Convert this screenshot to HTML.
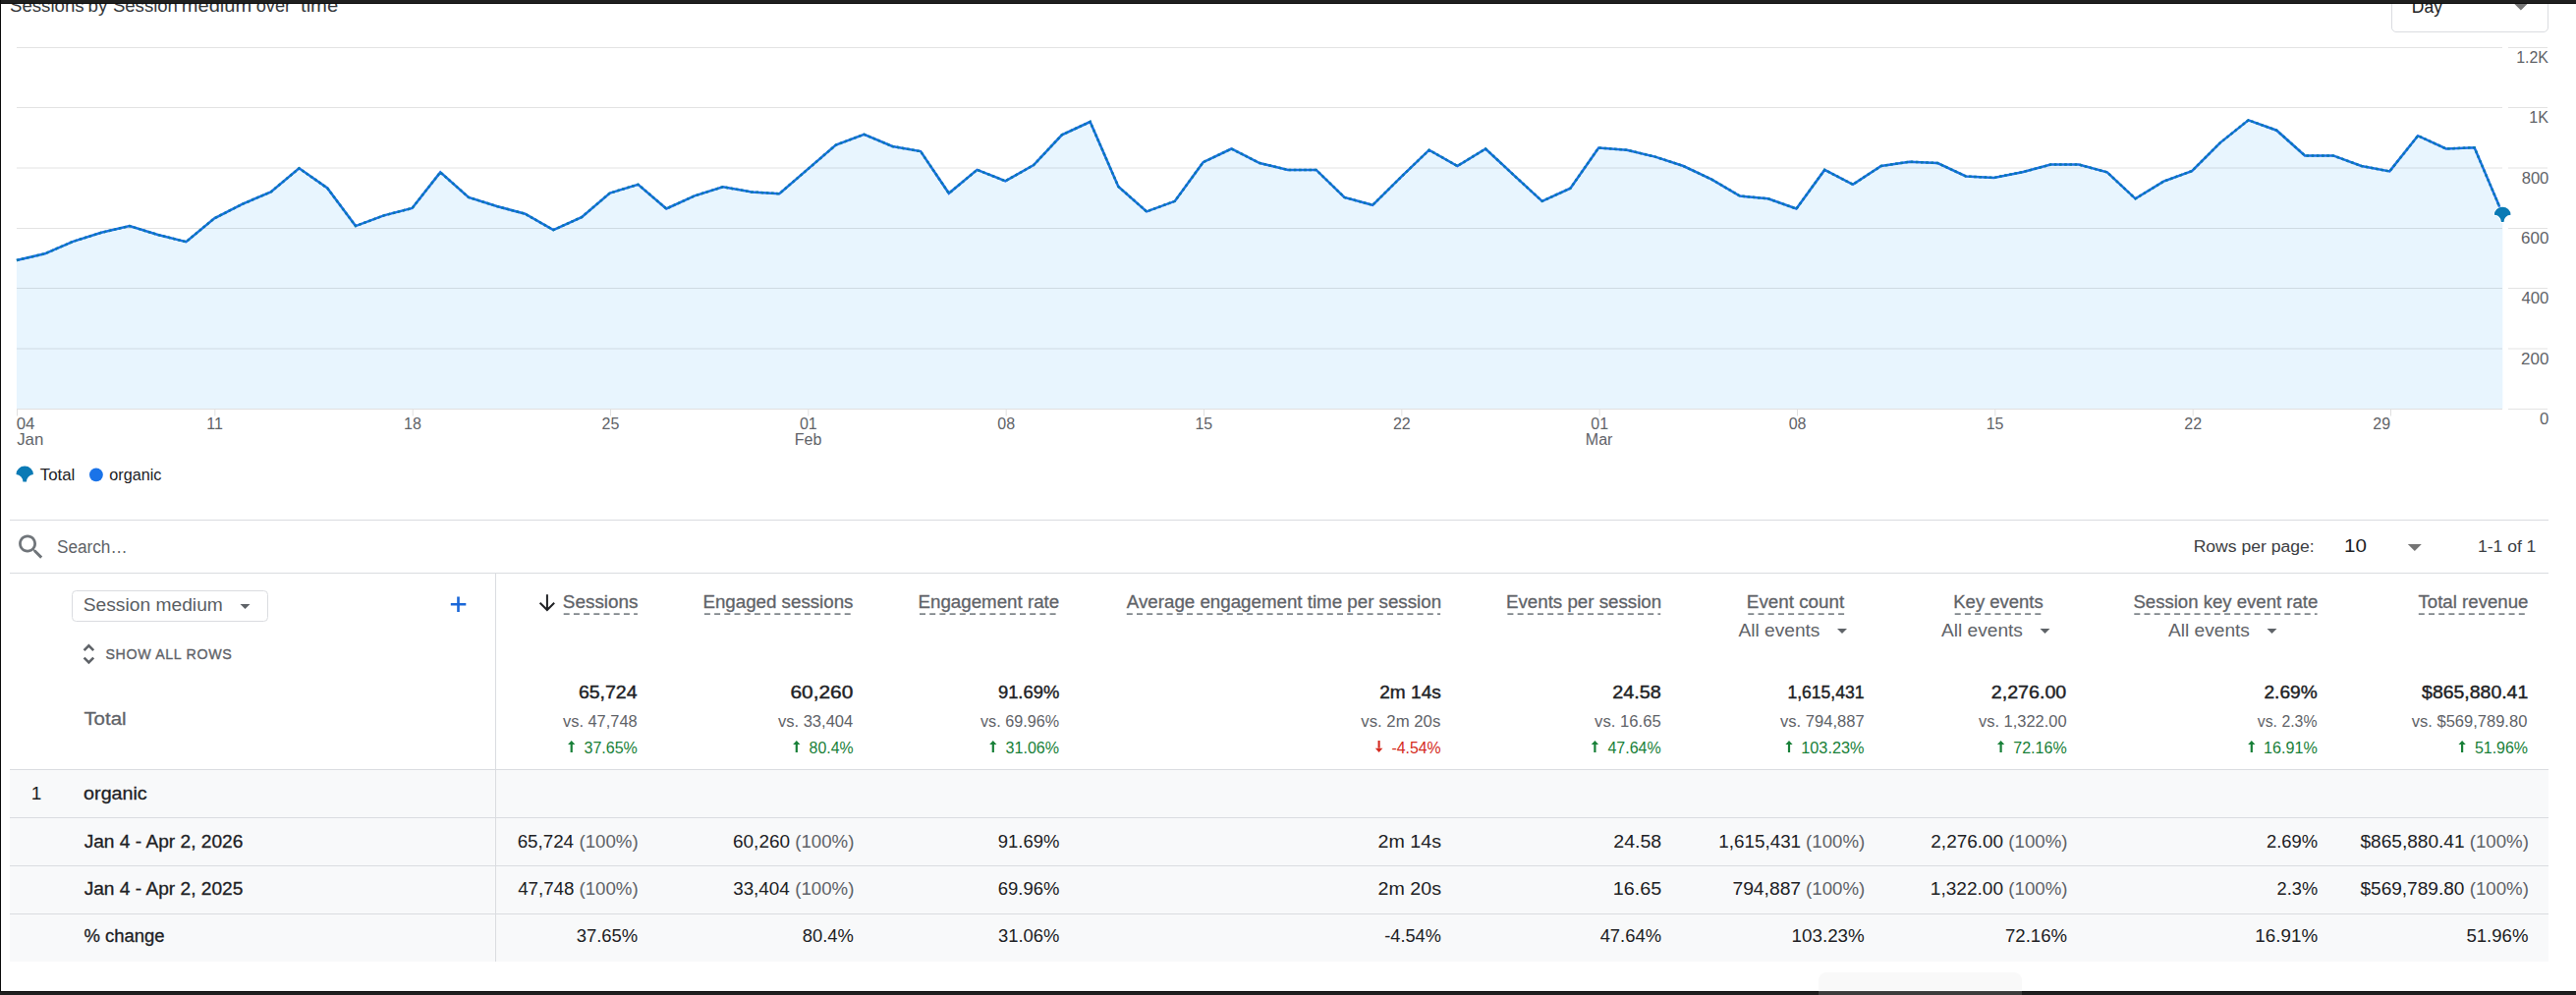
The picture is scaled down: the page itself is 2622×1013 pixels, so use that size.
<!DOCTYPE html>
<html><head><meta charset="utf-8"><style>
html,body{margin:0;padding:0;background:#fff;}
body{width:2622px;height:1013px;position:relative;overflow:hidden;font-family:"Liberation Sans", sans-serif;}
</style></head><body>
<div style="position:absolute;left:2434.4px;top:-10px;width:159.6px;height:42.7px;border:1px solid #dadce0;border-radius:5px;box-sizing:border-box;background:#fff;"></div><div style="position:absolute;left:10px;top:529px;width:2584px;height:1px;background:#dadce0;"></div><div style="position:absolute;left:10px;top:583px;width:2584px;height:1px;background:#dadce0;"></div><div style="position:absolute;left:73.4px;top:601.3px;width:199.2px;height:31.4px;border:1px solid #dadce0;border-radius:4.5px;box-sizing:border-box;"></div><div style="position:absolute;left:10px;top:784px;width:2584px;height:195px;background:#f8f9fa;"></div><div style="position:absolute;left:10px;top:783px;width:2584px;height:1px;background:#dadce0;"></div><div style="position:absolute;left:10px;top:832px;width:2584px;height:1px;background:#dadce0;"></div><div style="position:absolute;left:10px;top:881px;width:2584px;height:1px;background:#dadce0;"></div><div style="position:absolute;left:10px;top:930px;width:2584px;height:1px;background:#dadce0;"></div><div style="position:absolute;left:504px;top:584px;width:1px;height:395px;background:#dadce0;"></div>
<svg style="position:absolute;left:0;top:0" width="2622" height="1013" viewBox="0 0 2622 1013" font-family='"Liberation Sans", sans-serif'><path d="M16.90,416.0 L16.90,265.00 L45.66,258.30 L74.41,245.80 L103.16,236.80 L131.92,230.10 L160.68,239.00 L189.43,246.20 L218.19,222.30 L246.94,207.70 L275.69,195.40 L304.45,171.30 L333.20,191.50 L361.96,230.10 L390.71,219.40 L419.47,212.00 L448.22,175.40 L476.98,200.90 L505.73,210.00 L534.49,217.70 L563.25,234.20 L592.00,221.10 L620.75,196.60 L649.51,187.80 L678.26,212.50 L707.02,199.40 L735.77,190.30 L764.53,195.40 L793.28,197.20 L822.04,172.40 L850.79,147.60 L879.55,136.80 L908.30,149.00 L937.06,154.10 L965.81,196.80 L994.57,172.90 L1023.32,184.30 L1052.08,168.10 L1080.84,137.30 L1109.59,124.00 L1138.35,190.00 L1167.10,215.40 L1195.86,204.80 L1224.61,165.20 L1253.37,151.50 L1282.12,166.00 L1310.88,172.90 L1339.63,172.90 L1368.38,200.90 L1397.14,208.80 L1425.89,180.40 L1454.65,152.70 L1483.40,169.00 L1512.16,151.50 L1540.91,178.40 L1569.67,204.80 L1598.42,191.70 L1627.18,150.50 L1655.93,152.70 L1684.69,159.60 L1713.44,169.00 L1742.20,182.60 L1770.95,199.50 L1799.71,202.30 L1828.46,212.50 L1857.22,172.90 L1885.98,187.80 L1914.73,169.00 L1943.49,164.70 L1972.24,166.00 L2001.00,179.50 L2029.75,180.90 L2058.51,175.20 L2087.26,167.60 L2116.01,167.60 L2144.77,175.40 L2173.53,202.30 L2202.28,184.70 L2231.03,174.10 L2259.79,145.40 L2288.55,122.30 L2317.30,132.70 L2346.05,158.40 L2374.81,158.40 L2403.57,169.00 L2432.32,174.40 L2461.07,138.20 L2489.83,151.40 L2518.59,150.20 L2547.34,218.00 L2547.34,416.0 Z" fill="#e8f5fe"/><line x1="17" x2="2547" y1="48.5" y2="48.5" stroke="rgba(0,0,0,0.11)" stroke-width="1"/><line x1="2553" x2="2593" y1="48.5" y2="48.5" stroke="#e3e3e3" stroke-width="1"/><line x1="17" x2="2547" y1="109.5" y2="109.5" stroke="rgba(0,0,0,0.11)" stroke-width="1"/><line x1="2553" x2="2593" y1="109.5" y2="109.5" stroke="#e3e3e3" stroke-width="1"/><line x1="17" x2="2547" y1="171.0" y2="171.0" stroke="rgba(0,0,0,0.11)" stroke-width="1"/><line x1="2553" x2="2593" y1="171.0" y2="171.0" stroke="#e3e3e3" stroke-width="1"/><line x1="17" x2="2547" y1="232.5" y2="232.5" stroke="rgba(0,0,0,0.11)" stroke-width="1"/><line x1="2553" x2="2593" y1="232.5" y2="232.5" stroke="#e3e3e3" stroke-width="1"/><line x1="17" x2="2547" y1="293.5" y2="293.5" stroke="rgba(0,0,0,0.11)" stroke-width="1"/><line x1="2553" x2="2593" y1="293.5" y2="293.5" stroke="#e3e3e3" stroke-width="1"/><line x1="17" x2="2547" y1="355.0" y2="355.0" stroke="rgba(0,0,0,0.11)" stroke-width="1"/><line x1="2553" x2="2593" y1="355.0" y2="355.0" stroke="#e3e3e3" stroke-width="1"/><line x1="17" x2="2547" y1="416.5" y2="416.5" stroke="#e0e0e0" stroke-width="1.2"/><line x1="2553" x2="2593" y1="416.5" y2="416.5" stroke="#e3e3e3" stroke-width="1"/><line x1="17.50" x2="17.50" y1="416.0" y2="423.5" stroke="#e0e0e0" stroke-width="1"/><line x1="218.83" x2="218.83" y1="416.0" y2="423.5" stroke="#e0e0e0" stroke-width="1"/><line x1="420.17" x2="420.17" y1="416.0" y2="423.5" stroke="#e0e0e0" stroke-width="1"/><line x1="621.50" x2="621.50" y1="416.0" y2="423.5" stroke="#e0e0e0" stroke-width="1"/><line x1="822.84" x2="822.84" y1="416.0" y2="423.5" stroke="#e0e0e0" stroke-width="1"/><line x1="1024.17" x2="1024.17" y1="416.0" y2="423.5" stroke="#e0e0e0" stroke-width="1"/><line x1="1225.50" x2="1225.50" y1="416.0" y2="423.5" stroke="#e0e0e0" stroke-width="1"/><line x1="1426.84" x2="1426.84" y1="416.0" y2="423.5" stroke="#e0e0e0" stroke-width="1"/><line x1="1628.17" x2="1628.17" y1="416.0" y2="423.5" stroke="#e0e0e0" stroke-width="1"/><line x1="1829.51" x2="1829.51" y1="416.0" y2="423.5" stroke="#e0e0e0" stroke-width="1"/><line x1="2030.84" x2="2030.84" y1="416.0" y2="423.5" stroke="#e0e0e0" stroke-width="1"/><line x1="2232.17" x2="2232.17" y1="416.0" y2="423.5" stroke="#e0e0e0" stroke-width="1"/><line x1="2433.51" x2="2433.51" y1="416.0" y2="423.5" stroke="#e0e0e0" stroke-width="1"/><polyline points="16.90,265.00 45.66,258.30 74.41,245.80 103.16,236.80 131.92,230.10 160.68,239.00 189.43,246.20 218.19,222.30 246.94,207.70 275.69,195.40 304.45,171.30 333.20,191.50 361.96,230.10 390.71,219.40 419.47,212.00 448.22,175.40 476.98,200.90 505.73,210.00 534.49,217.70 563.25,234.20 592.00,221.10 620.75,196.60 649.51,187.80 678.26,212.50 707.02,199.40 735.77,190.30 764.53,195.40 793.28,197.20 822.04,172.40 850.79,147.60 879.55,136.80 908.30,149.00 937.06,154.10 965.81,196.80 994.57,172.90 1023.32,184.30 1052.08,168.10 1080.84,137.30 1109.59,124.00 1138.35,190.00 1167.10,215.40 1195.86,204.80 1224.61,165.20 1253.37,151.50 1282.12,166.00 1310.88,172.90 1339.63,172.90 1368.38,200.90 1397.14,208.80 1425.89,180.40 1454.65,152.70 1483.40,169.00 1512.16,151.50 1540.91,178.40 1569.67,204.80 1598.42,191.70 1627.18,150.50 1655.93,152.70 1684.69,159.60 1713.44,169.00 1742.20,182.60 1770.95,199.50 1799.71,202.30 1828.46,212.50 1857.22,172.90 1885.98,187.80 1914.73,169.00 1943.49,164.70 1972.24,166.00 2001.00,179.50 2029.75,180.90 2058.51,175.20 2087.26,167.60 2116.01,167.60 2144.77,175.40 2173.53,202.30 2202.28,184.70 2231.03,174.10 2259.79,145.40 2288.55,122.30 2317.30,132.70 2346.05,158.40 2374.81,158.40 2403.57,169.00 2432.32,174.40 2461.07,138.20 2489.83,151.40 2518.59,150.20 2547.34,218.00" fill="none" stroke="#1a6fe6" stroke-width="2.5" stroke-linejoin="miter"/><polyline points="16.90,265.00 45.66,258.30 74.41,245.80 103.16,236.80 131.92,230.10 160.68,239.00 189.43,246.20 218.19,222.30 246.94,207.70 275.69,195.40 304.45,171.30 333.20,191.50 361.96,230.10 390.71,219.40 419.47,212.00 448.22,175.40 476.98,200.90 505.73,210.00 534.49,217.70 563.25,234.20 592.00,221.10 620.75,196.60 649.51,187.80 678.26,212.50 707.02,199.40 735.77,190.30 764.53,195.40 793.28,197.20 822.04,172.40 850.79,147.60 879.55,136.80 908.30,149.00 937.06,154.10 965.81,196.80 994.57,172.90 1023.32,184.30 1052.08,168.10 1080.84,137.30 1109.59,124.00 1138.35,190.00 1167.10,215.40 1195.86,204.80 1224.61,165.20 1253.37,151.50 1282.12,166.00 1310.88,172.90 1339.63,172.90 1368.38,200.90 1397.14,208.80 1425.89,180.40 1454.65,152.70 1483.40,169.00 1512.16,151.50 1540.91,178.40 1569.67,204.80 1598.42,191.70 1627.18,150.50 1655.93,152.70 1684.69,159.60 1713.44,169.00 1742.20,182.60 1770.95,199.50 1799.71,202.30 1828.46,212.50 1857.22,172.90 1885.98,187.80 1914.73,169.00 1943.49,164.70 1972.24,166.00 2001.00,179.50 2029.75,180.90 2058.51,175.20 2087.26,167.60 2116.01,167.60 2144.77,175.40 2173.53,202.30 2202.28,184.70 2231.03,174.10 2259.79,145.40 2288.55,122.30 2317.30,132.70 2346.05,158.40 2374.81,158.40 2403.57,169.00 2432.32,174.40 2461.07,138.20 2489.83,151.40 2518.59,150.20 2547.34,218.00" fill="none" stroke="#0a78b0" stroke-width="2.5" stroke-dasharray="2.6 2.6" stroke-linejoin="miter"/><path d="M2538.89,218.78 A8.31,8.02 0 0 1 2555.51,218.78 A6.97,6.97 0 0 0 2548.54,226.04 L2545.86,226.04 A6.97,6.97 0 0 0 2538.89,218.78 Z" fill="#0a7ab5" stroke="#fff" stroke-width="1.6" paint-order="stroke"/><path d="M16.50,483.00 A8.70,8.40 0 0 1 33.90,483.00 A7.30,7.30 0 0 0 27.00,490.60 L23.40,490.60 A7.30,7.30 0 0 0 16.50,483.00 Z" fill="#0a7ab5"/><circle cx="97.9" cy="483.4" r="6.9" fill="#1a73e8"/><path d="M2558.8,3.6 L2573,3.6 L2565.9,10.6 Z" fill="#757575"/><g transform="translate(14.95,540.4) scale(1.378)"><path fill="#70757a" d="M15.5 14h-.79l-.28-.27C15.41 12.59 16 11.11 16 9.5 16 5.91 13.09 3 9.5 3S3 5.91 3 9.5 5.91 16 9.5 16c1.61 0 3.09-.59 4.23-1.57l.27.28v.79l5 4.99L20.49 19l-4.99-5zm-6 0C7.01 14 5 11.99 5 9.5S7.01 5 9.5 5 14 7.01 14 9.5 11.99 14 9.5 14z"/></g><path d="M2450.8,553.9 L2464.8,553.9 L2457.8,560.9 Z" fill="#757575"/><path d="M244.5,615.1 L254.5,615.1 L249.5,620.1 Z" fill="#5f6368"/><path d="M466.5,607.5 V623 M458.8,615.2 H474.3" stroke="#1a67d8" stroke-width="2.6" fill="none"/><polyline points="85.6,662.2 90.4,657.4 95.2,662.2" fill="none" stroke="#5f6368" stroke-width="2.6"/><polyline points="85.6,669.6 90.4,674.4 95.2,669.6" fill="none" stroke="#5f6368" stroke-width="2.6"/><line x1="573.7" x2="648.9" y1="625.1" y2="625.1" stroke="#80868b" stroke-width="1.6" stroke-dasharray="6 4.2"/><line x1="716.9" x2="868.0" y1="625.1" y2="625.1" stroke="#80868b" stroke-width="1.6" stroke-dasharray="6 4.2"/><line x1="936.0" x2="1077.6" y1="625.1" y2="625.1" stroke="#80868b" stroke-width="1.6" stroke-dasharray="6 4.2"/><line x1="1146.8" x2="1466.1" y1="625.1" y2="625.1" stroke="#80868b" stroke-width="1.6" stroke-dasharray="6 4.2"/><line x1="1534.4" x2="1690.2" y1="625.1" y2="625.1" stroke="#80868b" stroke-width="1.6" stroke-dasharray="6 4.2"/><line x1="1779.3" x2="1877.1" y1="625.1" y2="625.1" stroke="#80868b" stroke-width="1.6" stroke-dasharray="6 4.2"/><line x1="1989.7" x2="2079.1" y1="625.1" y2="625.1" stroke="#80868b" stroke-width="1.6" stroke-dasharray="6 4.2"/><line x1="2172.3" x2="2358.6" y1="625.1" y2="625.1" stroke="#80868b" stroke-width="1.6" stroke-dasharray="6 4.2"/><line x1="2461.8" x2="2572.8" y1="625.1" y2="625.1" stroke="#80868b" stroke-width="1.6" stroke-dasharray="6 4.2"/><path d="M556.9,605.3 V620 M549.6,613.8 L556.9,621 L564.2,613.8" fill="none" stroke="#202124" stroke-width="2"/><path d="M1870.0,640.1 L1880.0,640.1 L1875.0,645.1 Z" fill="#5f6368"/><path d="M2076.5,640.1 L2086.5,640.1 L2081.5,645.1 Z" fill="#5f6368"/><path d="M2307.5,640.1 L2317.5,640.1 L2312.5,645.1 Z" fill="#5f6368"/><text transform="translate(2561.28,64.10) scale(0.9929,1)" font-size="16" font-weight="400" fill="#5f6368">1.2K</text><text transform="translate(2574.27,125.10) scale(1.0082,1)" font-size="16" font-weight="400" fill="#5f6368">1K</text><text transform="translate(2566.65,186.60) scale(1.0392,1)" font-size="16" font-weight="400" fill="#5f6368">800</text><text transform="translate(2566.10,248.10) scale(1.0601,1)" font-size="16" font-weight="400" fill="#5f6368">600</text><text transform="translate(2566.51,309.10) scale(1.0447,1)" font-size="16" font-weight="400" fill="#5f6368">400</text><text transform="translate(2566.10,370.60) scale(1.0601,1)" font-size="16" font-weight="400" fill="#5f6368">200</text><text transform="translate(2585.05,432.10) scale(1.0452,1)" font-size="16" font-weight="400" fill="#5f6368">0</text><text transform="translate(16.64,436.80) scale(1.0507,1)" font-size="16" font-weight="400" fill="#5f6368">04</text><text transform="translate(17.14,452.60) scale(1.0531,1)" font-size="16" font-weight="400" fill="#5f6368">Jan</text><text transform="translate(210.33,436.80)" font-size="16" font-weight="400" fill="#5f6368">11</text><text transform="translate(411.04,436.80)" font-size="16" font-weight="400" fill="#5f6368">18</text><text transform="translate(612.56,436.80)" font-size="16" font-weight="400" fill="#5f6368">25</text><text transform="translate(813.96,436.80)" font-size="16" font-weight="400" fill="#5f6368">01</text><text transform="translate(808.71,452.60)" font-size="16" font-weight="400" fill="#5f6368">Feb</text><text transform="translate(1015.30,436.80)" font-size="16" font-weight="400" fill="#5f6368">08</text><text transform="translate(1216.38,436.80)" font-size="16" font-weight="400" fill="#5f6368">15</text><text transform="translate(1417.96,436.80)" font-size="16" font-weight="400" fill="#5f6368">22</text><text transform="translate(1619.30,436.80)" font-size="16" font-weight="400" fill="#5f6368">01</text><text transform="translate(1613.86,452.60)" font-size="16" font-weight="400" fill="#5f6368">Mar</text><text transform="translate(1820.63,436.80)" font-size="16" font-weight="400" fill="#5f6368">08</text><text transform="translate(2021.72,436.80)" font-size="16" font-weight="400" fill="#5f6368">15</text><text transform="translate(2223.30,436.80)" font-size="16" font-weight="400" fill="#5f6368">22</text><text transform="translate(2415.28,436.80)" font-size="16" font-weight="400" fill="#5f6368">29</text><text transform="translate(40.71,488.80) scale(1.0533,1)" font-size="16" font-weight="400" fill="#202124">Total</text><text transform="translate(111.27,488.80) scale(1.0117,1)" font-size="16" font-weight="400" fill="#202124">organic</text><text transform="translate(10.00,11.80) scale(1.0643,1)" font-size="17.5" font-weight="400" fill="#34373b">Sessions</text><text transform="translate(89.60,11.80) scale(1.0705,1)" font-size="17.5" font-weight="400" fill="#34373b">by</text><text transform="translate(114.90,11.80) scale(1.0617,1)" font-size="17.5" font-weight="400" fill="#34373b">Session</text><text transform="translate(184.81,11.80) scale(1.1467,1)" font-size="17.5" font-weight="400" fill="#34373b">medium</text><text transform="translate(260.72,11.80) scale(1.0394,1)" font-size="17.5" font-weight="400" fill="#34373b">over</text><text transform="translate(306.01,11.80) scale(1.1562,1)" font-size="17.5" font-weight="400" fill="#34373b">time</text><text transform="translate(2454.84,12.90) scale(0.9354,1)" font-size="18.67" font-weight="400" fill="#202124">Day</text><text transform="translate(57.91,562.80) scale(0.9056,1)" font-size="19" font-weight="400" fill="#5f6368">Search…</text><text transform="translate(2232.63,561.50) scale(1.0990,1)" font-size="16" font-weight="400" fill="#3c4043">Rows per page:</text><text transform="translate(2386.03,562.30) scale(1.1444,1)" font-size="18" font-weight="400" fill="#202124">10</text><text transform="translate(2521.97,561.50) scale(1.0959,1)" font-size="16" font-weight="400" fill="#3c4043">1-1 of 1</text><text transform="translate(84.71,622.00) scale(1.0125,1)" font-size="19" font-weight="400" fill="#5a5e63">Session medium</text><text transform="translate(107.41,670.90) scale(0.9491,1)" font-size="15" font-weight="400" fill="#5f6368" stroke="#5f6368" stroke-width="0.35" letter-spacing="0.7">SHOW ALL ROWS</text><text transform="translate(572.86,619.00) scale(1.0128,1)" font-size="18.67" font-weight="400" fill="#5f6368" stroke="#5f6368" stroke-width="0.3">Sessions</text><text transform="translate(715.44,619.00) scale(1.0040,1)" font-size="18.67" font-weight="400" fill="#5f6368" stroke="#5f6368" stroke-width="0.3">Engaged sessions</text><text transform="translate(934.54,619.00) scale(1.0043,1)" font-size="18.67" font-weight="400" fill="#5f6368" stroke="#5f6368" stroke-width="0.3">Engagement rate</text><text transform="translate(1146.85,619.00) scale(1.0037,1)" font-size="18.67" font-weight="400" fill="#5f6368" stroke="#5f6368" stroke-width="0.3">Average engagement time per session</text><text transform="translate(1532.94,619.00) scale(1.0044,1)" font-size="18.67" font-weight="400" fill="#5f6368" stroke="#5f6368" stroke-width="0.3">Events per session</text><text transform="translate(1777.83,619.00) scale(1.0082,1)" font-size="18.67" font-weight="400" fill="#5f6368" stroke="#5f6368" stroke-width="0.3">Event count</text><text transform="translate(1988.26,619.00) scale(0.9906,1)" font-size="18.67" font-weight="400" fill="#5f6368" stroke="#5f6368" stroke-width="0.3">Key events</text><text transform="translate(2171.47,619.00) scale(0.9949,1)" font-size="18.67" font-weight="400" fill="#5f6368" stroke="#5f6368" stroke-width="0.3">Session key event rate</text><text transform="translate(2461.47,619.00)" font-size="18.67" font-weight="400" fill="#5f6368" stroke="#5f6368" stroke-width="0.3">Total revenue</text><text transform="translate(1769.45,648.00) scale(0.9976,1)" font-size="19.2" font-weight="400" fill="#5f6368">All events</text><text transform="translate(1975.95,648.00) scale(0.9976,1)" font-size="19.2" font-weight="400" fill="#5f6368">All events</text><text transform="translate(2206.95,648.00) scale(0.9976,1)" font-size="19.2" font-weight="400" fill="#5f6368">All events</text><text transform="translate(588.92,711.00) scale(1.1146,1)" font-size="17.5" font-weight="400" fill="#202124" stroke="#202124" stroke-width="0.4">65,724</text><text transform="translate(573.00,740.00) scale(1.0256,1)" font-size="16" font-weight="400" fill="#5f6368">vs. 47,748</text><text transform="translate(594.47,766.80) scale(1.0033,1)" font-size="16" font-weight="400" fill="#188038">37.65%</text><path d="M578.05,757.9 L581.70,754.1 L585.35,757.9 Z M580.60,757.5 H582.80 V766 H580.60 Z" fill="#188038"/><text transform="translate(804.46,711.00) scale(1.1942,1)" font-size="17.5" font-weight="400" fill="#202124" stroke="#202124" stroke-width="0.4">60,260</text><text transform="translate(791.90,740.00) scale(1.0358,1)" font-size="16" font-weight="400" fill="#5f6368">vs. 33,404</text><text transform="translate(823.58,766.80) scale(0.9921,1)" font-size="16" font-weight="400" fill="#188038">80.4%</text><path d="M807.15,757.9 L810.80,754.1 L814.45,757.9 Z M809.70,757.5 H811.90 V766 H809.70 Z" fill="#188038"/><text transform="translate(1015.91,711.00) scale(1.0500,1)" font-size="17.5" font-weight="400" fill="#202124" stroke="#202124" stroke-width="0.4">91.69%</text><text transform="translate(998.00,740.00) scale(1.0124,1)" font-size="16" font-weight="400" fill="#5f6368">vs. 69.96%</text><text transform="translate(1023.57,766.80) scale(1.0052,1)" font-size="16" font-weight="400" fill="#188038">31.06%</text><path d="M1007.15,757.9 L1010.80,754.1 L1014.45,757.9 Z M1009.70,757.5 H1011.90 V766 H1009.70 Z" fill="#188038"/><text transform="translate(1404.25,711.00) scale(1.0899,1)" font-size="17.5" font-weight="400" fill="#202124" stroke="#202124" stroke-width="0.4">2m 14s</text><text transform="translate(1385.30,740.00) scale(1.0472,1)" font-size="16" font-weight="400" fill="#5f6368">vs. 2m 20s</text><text transform="translate(1416.38,766.80) scale(0.9919,1)" font-size="16" font-weight="400" fill="#d42a20">-4.54%</text><path d="M1399.80,761.7 L1403.60,766 L1407.40,761.7 Z M1402.55,754.1 H1404.65 V762.1 H1402.55 Z" fill="#d42a20"/><text transform="translate(1641.21,711.00) scale(1.1314,1)" font-size="17.5" font-weight="400" fill="#202124" stroke="#202124" stroke-width="0.4">24.58</text><text transform="translate(1623.10,740.00) scale(1.0412,1)" font-size="16" font-weight="400" fill="#5f6368">vs. 16.65</text><text transform="translate(1636.42,766.80) scale(1.0005,1)" font-size="16" font-weight="400" fill="#188038">47.64%</text><path d="M1619.75,757.9 L1623.40,754.1 L1627.05,757.9 Z M1622.30,757.5 H1624.50 V766 H1622.30 Z" fill="#188038"/><text transform="translate(1819.45,711.00) scale(1.0033,1)" font-size="17.5" font-weight="400" fill="#202124" stroke="#202124" stroke-width="0.4">1,615,431</text><text transform="translate(1812.00,740.00) scale(1.0366,1)" font-size="16" font-weight="400" fill="#5f6368">vs. 794,887</text><text transform="translate(1833.25,766.80) scale(1.0179,1)" font-size="16" font-weight="400" fill="#188038">103.23%</text><path d="M1817.35,757.9 L1821.00,754.1 L1824.65,757.9 Z M1819.90,757.5 H1822.10 V766 H1819.90 Z" fill="#188038"/><text transform="translate(2026.82,711.00) scale(1.1227,1)" font-size="17.5" font-weight="400" fill="#202124" stroke="#202124" stroke-width="0.4">2,276.00</text><text transform="translate(2014.00,740.00) scale(1.0297,1)" font-size="16" font-weight="400" fill="#5f6368">vs. 1,322.00</text><text transform="translate(2049.25,766.80) scale(1.0038,1)" font-size="16" font-weight="400" fill="#188038">72.16%</text><path d="M2032.95,757.9 L2036.60,754.1 L2040.25,757.9 Z M2035.50,757.5 H2037.70 V766 H2035.50 Z" fill="#188038"/><text transform="translate(2304.44,711.00) scale(1.0930,1)" font-size="17.5" font-weight="400" fill="#202124" stroke="#202124" stroke-width="0.4">2.69%</text><text transform="translate(2297.80,740.00) scale(0.9889,1)" font-size="16" font-weight="400" fill="#5f6368">vs. 2.3%</text><text transform="translate(2304.06,766.80) scale(1.0090,1)" font-size="16" font-weight="400" fill="#188038">16.91%</text><path d="M2288.15,757.9 L2291.80,754.1 L2295.45,757.9 Z M2290.70,757.5 H2292.90 V766 H2290.70 Z" fill="#188038"/><text transform="translate(2465.06,711.00) scale(1.1123,1)" font-size="17.5" font-weight="400" fill="#202124" stroke="#202124" stroke-width="0.4">$865,880.41</text><text transform="translate(2454.80,740.00) scale(1.0331,1)" font-size="16" font-weight="400" fill="#5f6368">vs. $569,789.80</text><text transform="translate(2518.88,766.80) scale(0.9995,1)" font-size="16" font-weight="400" fill="#188038">51.96%</text><path d="M2502.45,757.9 L2506.10,754.1 L2509.75,757.9 Z M2505.00,757.5 H2507.20 V766 H2505.00 Z" fill="#188038"/><text transform="translate(85.40,738.00) scale(1.0753,1)" font-size="19" font-weight="400" fill="#5f6368" stroke="#5f6368" stroke-width="0.3">Total</text><text transform="translate(31.73,814.20)" font-size="19" font-weight="400" fill="#202124">1</text><text transform="translate(85.12,814.20) scale(1.0372,1)" font-size="19" font-weight="400" fill="#202124" stroke="#202124" stroke-width="0.3">organic</text><text transform="translate(85.65,862.60) scale(1.0075,1)" font-size="19" font-weight="400" fill="#202124" stroke="#202124" stroke-width="0.3">Jan 4 - Apr 2, 2026</text><text transform="translate(85.65,911.10) scale(1.0079,1)" font-size="19" font-weight="400" fill="#202124" stroke="#202124" stroke-width="0.3">Jan 4 - Apr 2, 2025</text><text transform="translate(85.39,958.90) scale(0.9720,1)" font-size="19" font-weight="400" fill="#202124" stroke="#202124" stroke-width="0.3">% change</text><text transform="translate(589.49,862.60) scale(0.9831,1)" font-size="19" font-weight="400" fill="#5f6368">(100%)</text><text transform="translate(526.64,862.60) scale(0.9885,1)" font-size="19" font-weight="400" fill="#202124">65,724</text><text transform="translate(589.49,910.90) scale(0.9831,1)" font-size="19" font-weight="400" fill="#5f6368">(100%)</text><text transform="translate(527.13,910.90) scale(0.9864,1)" font-size="19" font-weight="400" fill="#202124">47,748</text><text transform="translate(586.67,959.30) scale(0.9714,1)" font-size="19" font-weight="400" fill="#202124">37.65%</text><text transform="translate(809.19,862.60) scale(0.9831,1)" font-size="19" font-weight="400" fill="#5f6368">(100%)</text><text transform="translate(746.03,862.60) scale(0.9982,1)" font-size="19" font-weight="400" fill="#202124">60,260</text><text transform="translate(809.19,910.90) scale(0.9831,1)" font-size="19" font-weight="400" fill="#5f6368">(100%)</text><text transform="translate(746.16,910.90) scale(0.9916,1)" font-size="19" font-weight="400" fill="#202124">33,404</text><text transform="translate(816.77,959.30) scale(0.9676,1)" font-size="19" font-weight="400" fill="#202124">80.4%</text><text transform="translate(1015.85,862.60) scale(0.9718,1)" font-size="19" font-weight="400" fill="#202124">91.69%</text><text transform="translate(1015.85,910.90) scale(0.9718,1)" font-size="19" font-weight="400" fill="#202124">69.96%</text><text transform="translate(1015.97,959.30) scale(0.9698,1)" font-size="19" font-weight="400" fill="#202124">31.06%</text><text transform="translate(1402.60,862.60) scale(1.0337,1)" font-size="19" font-weight="400" fill="#202124">2m 14s</text><text transform="translate(1402.60,910.90) scale(1.0337,1)" font-size="19" font-weight="400" fill="#202124">2m 20s</text><text transform="translate(1409.28,959.30) scale(0.9563,1)" font-size="19" font-weight="400" fill="#202124">-4.54%</text><text transform="translate(1642.30,862.60) scale(1.0289,1)" font-size="19" font-weight="400" fill="#202124">24.58</text><text transform="translate(1641.77,910.90) scale(1.0402,1)" font-size="19" font-weight="400" fill="#202124">16.65</text><text transform="translate(1628.64,959.30) scale(0.9688,1)" font-size="19" font-weight="400" fill="#202124">47.64%</text><text transform="translate(1838.09,862.60) scale(0.9831,1)" font-size="19" font-weight="400" fill="#5f6368">(100%)</text><text transform="translate(1749.34,862.60) scale(0.9909,1)" font-size="19" font-weight="400" fill="#202124">1,615,431</text><text transform="translate(1838.09,910.90) scale(0.9831,1)" font-size="19" font-weight="400" fill="#5f6368">(100%)</text><text transform="translate(1763.41,910.90) scale(1.0153,1)" font-size="19" font-weight="400" fill="#202124">794,887</text><text transform="translate(1823.54,959.30) scale(0.9904,1)" font-size="19" font-weight="400" fill="#202124">103.23%</text><text transform="translate(2044.29,862.60) scale(0.9831,1)" font-size="19" font-weight="400" fill="#5f6368">(100%)</text><text transform="translate(1965.33,862.60) scale(0.9976,1)" font-size="19" font-weight="400" fill="#202124">2,276.00</text><text transform="translate(2044.29,910.90) scale(0.9831,1)" font-size="19" font-weight="400" fill="#5f6368">(100%)</text><text transform="translate(1964.82,910.90) scale(1.0045,1)" font-size="19" font-weight="400" fill="#202124">1,322.00</text><text transform="translate(2041.04,959.30) scale(0.9781,1)" font-size="19" font-weight="400" fill="#202124">72.16%</text><text transform="translate(2306.95,862.60) scale(0.9680,1)" font-size="19" font-weight="400" fill="#202124">2.69%</text><text transform="translate(2317.56,910.90) scale(0.9605,1)" font-size="19" font-weight="400" fill="#202124">2.3%</text><text transform="translate(2295.34,959.30) scale(0.9908,1)" font-size="19" font-weight="400" fill="#202124">16.91%</text><text transform="translate(2513.69,862.60) scale(0.9831,1)" font-size="19" font-weight="400" fill="#5f6368">(100%)</text><text transform="translate(2402.45,862.60) scale(1.0057,1)" font-size="19" font-weight="400" fill="#202124">$865,880.41</text><text transform="translate(2513.69,910.90) scale(0.9831,1)" font-size="19" font-weight="400" fill="#5f6368">(100%)</text><text transform="translate(2402.45,910.90) scale(1.0033,1)" font-size="19" font-weight="400" fill="#202124">$569,789.80</text><text transform="translate(2510.47,959.30) scale(0.9778,1)" font-size="19" font-weight="400" fill="#202124">51.96%</text></svg>
<div style="position:absolute;left:0px;top:0px;width:2622px;height:3px;background:#1f1f1f;"></div><div style="position:absolute;left:0px;top:3px;width:2622px;height:1px;background:#0e0e0e;"></div><div style="position:absolute;left:0px;top:0px;width:1px;height:1013px;background:#0b0b0b;"></div><div style="position:absolute;left:1851px;top:990px;width:207px;height:19px;background:#f9f9f9;border-radius:8px 8px 0 0;"></div><div style="position:absolute;left:0px;top:1009px;width:2622px;height:4px;background:#1f1f1f;"></div><div style="position:absolute;left:1851px;top:1009px;width:207px;height:4px;background:#3c3c3c;"></div><div style="position:absolute;left:0px;top:1009px;width:1851px;height:1px;background:#0e0e0e;"></div><div style="position:absolute;left:2058px;top:1009px;width:564px;height:1px;background:#0e0e0e;"></div>
</body></html>
